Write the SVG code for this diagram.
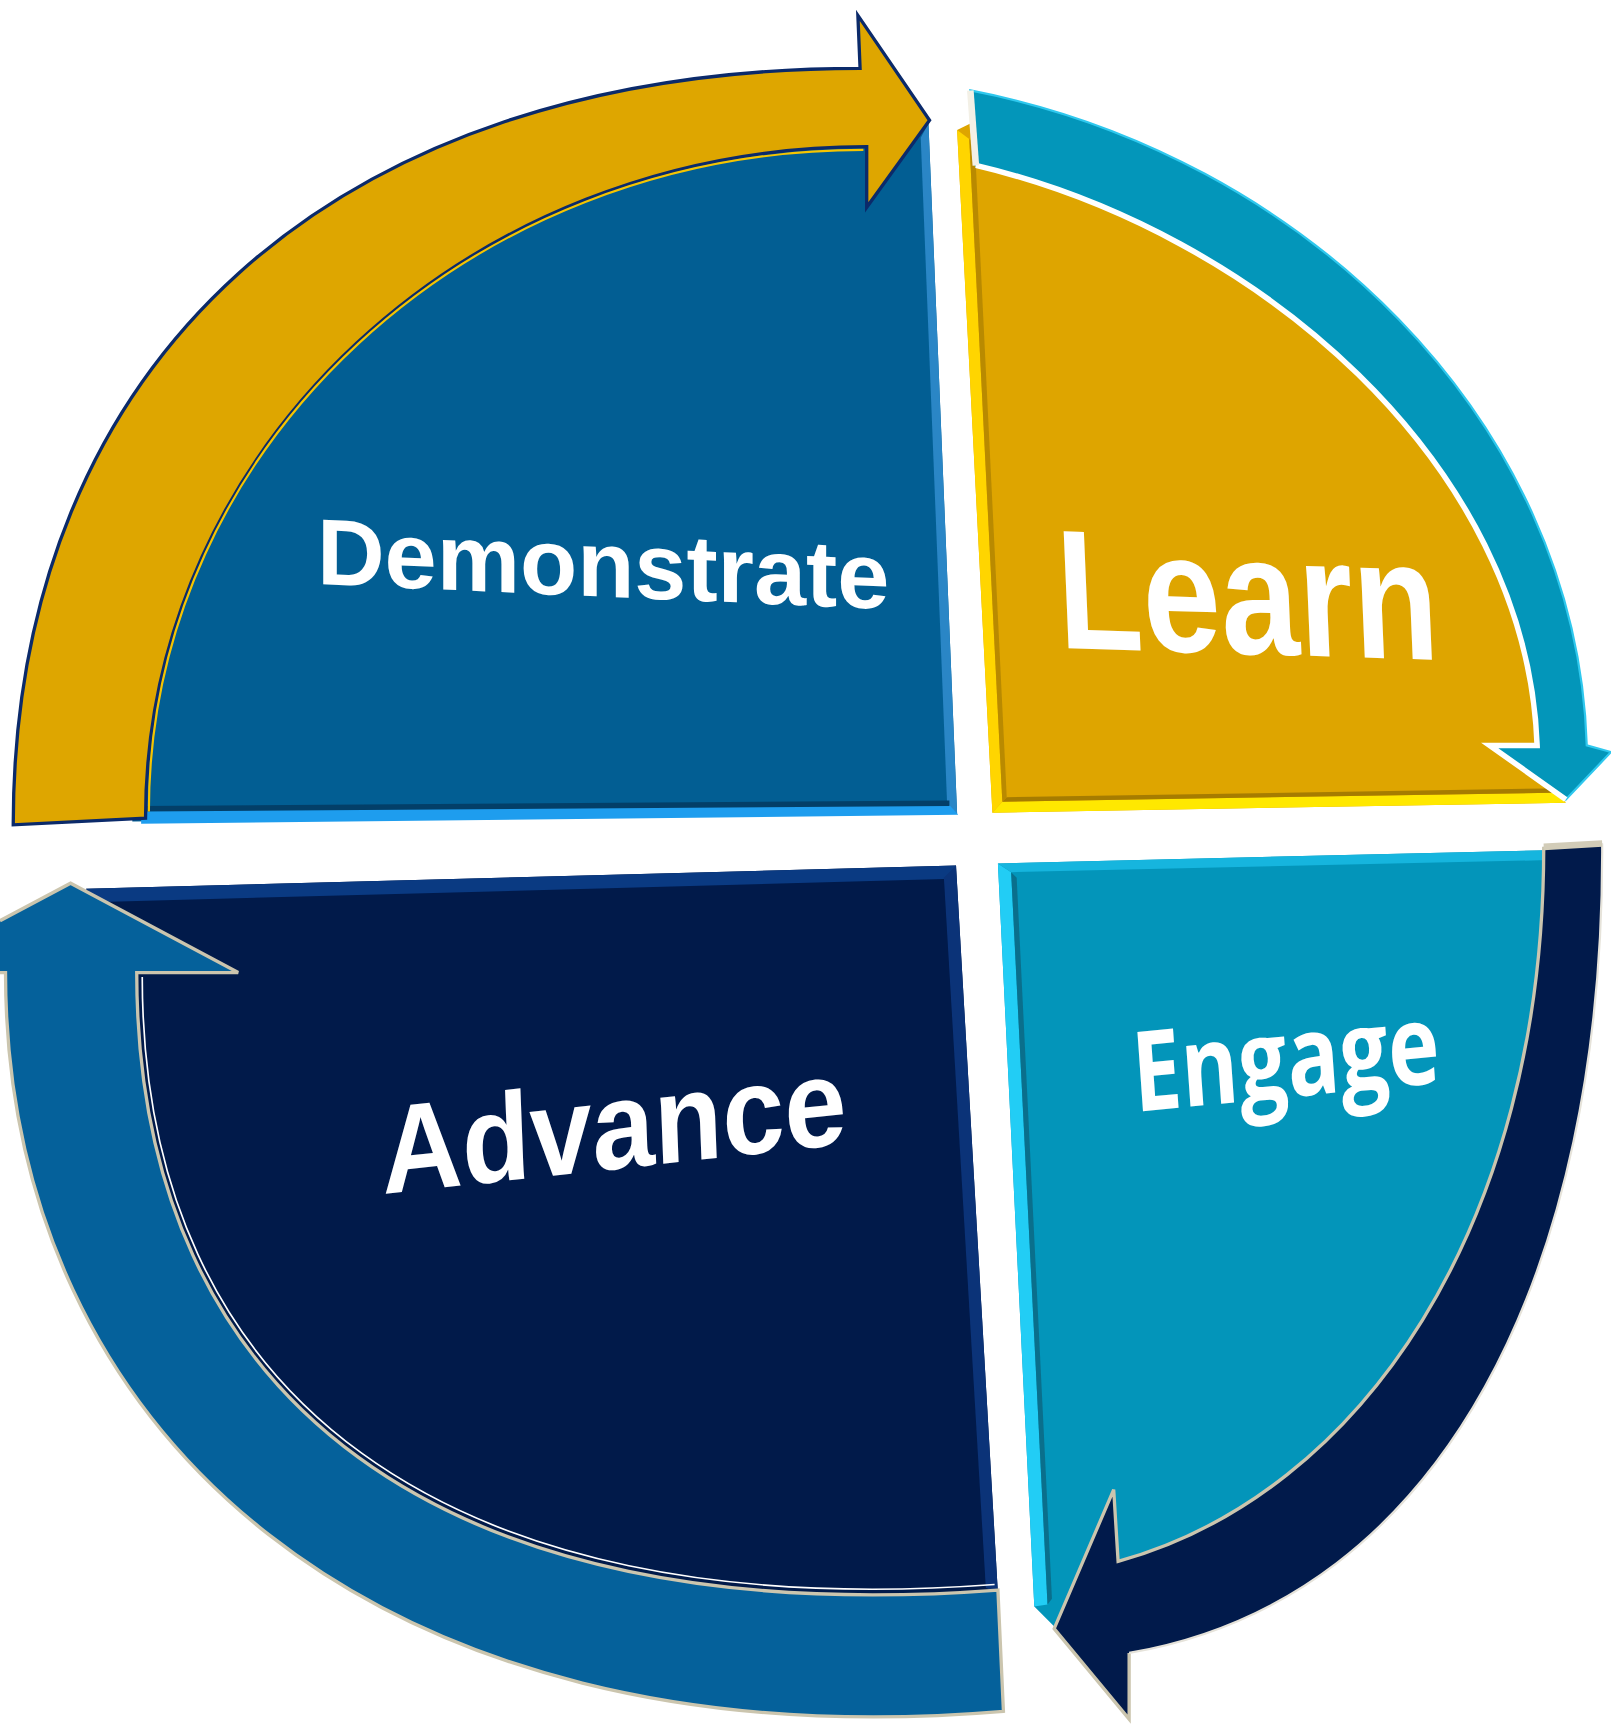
<svg xmlns="http://www.w3.org/2000/svg" width="1611" height="1729" viewBox="0 0 1611 1729">
<style>
.lbl{font-family:"Liberation Sans",Arial,sans-serif;font-weight:bold;fill:#ffffff;text-anchor:middle}
.lbl2{font-family:"Open Sans","Noto Sans",sans-serif;font-weight:bold;fill:#ffffff;text-anchor:middle}
.bevel{fill:none;stroke:#cbc5ae;stroke-width:3;stroke-linejoin:miter}
</style>
<rect width="1611" height="1729" fill="#ffffff"/>
<g transform="scale(1.10267)">
<g id="demonstrate">
<path d="M120,745 C120,410 430,125 790,123 L842,112 L868,738 Z" fill="#025e93"/>
<path d="M835,125 L842,112 L868,738 L859,731 Z" fill="#2a86c6"/>
<path d="M128,735 L861,730 L869,739 L128,747 Z" fill="#1e9dee"/>
<path d="M128,731 L861,726 L861,731 L128,736 Z" fill="#033f68"/>
<text class="lbl" font-size="85" transform="translate(547,541) rotate(2.5) skewX(2.5)">Demonstrate</text>
</g>
<g id="learn">
<path d="M868,118 L900,737 L1420,728 L1405,700 C1390,420 1150,140 880,112 Z" fill="#dea500"/>
<path d="M868,118 L879,126 L909,727 L900,737 Z" fill="#ffd500"/>
<path d="M900,737 L909,727 L1408,719 L1420,728 Z" fill="#ffe800"/>
<path d="M879,126 L884,130 L913,723 L909,727 Z" fill="#b98a00"/>
<path d="M909,727 L913,723 L1404,715 L1408,719 Z" fill="#a67c00"/>
<text class="lbl" font-size="154" transform="translate(1133.5,593) rotate(1.8) skewX(4.2) scale(0.825,1)">Learn</text>
</g>
<g id="engage">
<path d="M905,783 L1405,771 C1405,1110 1240,1355 1014,1418 L957,1476 L938,1457 Z" fill="#0395ba"/>
<path d="M905,783 L917,791 L950,1455 L938,1457 Z" fill="#22cdf5"/>
<path d="M905,783 L1405,771 L1404,780 L917,791 Z" fill="#16b5de"/>
<path d="M917,791 L922,796 L954,1450 L950,1455 Z" fill="#0a6f8c"/>
<text class="lbl2" font-size="101" transform="translate(1168.5,995) rotate(-5.5) skewX(-1.5) scale(0.78,1)">Engage</text>
</g>
<g id="advance">
<path d="M78,806 L867,785 L905,1445 C400,1500 110,1300 110,882 Z" fill="#011a4a"/>
<path d="M78,806 L867,785 L865,797 L92,818 Z" fill="#0a3a82"/>
<path d="M856,796 L867,785 L905,1445 L894,1440 Z" fill="#0b3378"/>
<text class="lbl" font-size="113" transform="translate(558,1060) rotate(-6.2) skewX(-4) scale(0.9,1)">Advance</text>
</g>
<g id="connectors">
<g id="arrow-demonstrate-learn">
<path d="M12,748 C12,330 300,62 780,62 L778,14 L843,109 L786,188 L786,133 C425,133 132,405 132,742 Z" fill="#dea600" stroke="#0b2a6a" stroke-width="3" stroke-linejoin="miter"/>
<path d="M135,736 C135,405 425,136 783,136" fill="none" stroke="#f5c400" stroke-width="2"/>
</g>
<g id="arrow-learn-engage">
<path d="M880,82 C1180,140 1430,380 1439,676 L1461,682 L1420,725 L1351,676 L1394,676 C1385,420 1140,210 885,150 Z" fill="#0396ba" stroke="#2fc8ee" stroke-width="2"/>
<path d="M885,150 C1140,210 1385,420 1394,676 L1351,676 L1420,725" fill="none" stroke="#ffffff" stroke-width="5" stroke-linejoin="miter"/>
<path d="M880,82 L885,150" fill="none" stroke="#f3f0e6" stroke-width="6"/>
</g>
<g id="arrow-engage-advance">
<path d="M1453,765 C1455,1150 1310,1450 1024,1499 L1024,1559 L956,1477 L1010,1351 L1014,1416 C1235,1355 1400,1110 1400,768 Z" fill="#011a4b"/>
<path d="M1024,1499 L1024,1559 L956,1477 L1010,1351 L1014,1416 C1235,1355 1400,1110 1400,768" class="bevel"/>
<path d="M1453,765 C1455,1150 1310,1450 1024,1499" fill="none" stroke="#e6e3da" stroke-width="2"/>
<path d="M1400,768 L1453,765" fill="none" stroke="#d2ccb8" stroke-width="6"/>
</g>
<g id="arrow-advance-demonstrate">
<path d="M64,801 L216,882 L124,882 C124,1270 400,1480 905,1442 L910,1552 C340,1600 5,1300 5,882 L0,882 L0,835 Z" fill="#05619b"/>
<path d="M0,835 L64,801 L216,882 L124,882 C124,1270 400,1480 905,1442 L910,1552 C340,1600 5,1300 5,882 L0,882" class="bevel"/>
<path d="M129,886 C129,1266 402,1474 902,1437" fill="none" stroke="#ffffff" stroke-width="1.5"/>
</g>
</g>
</g>
</svg>
